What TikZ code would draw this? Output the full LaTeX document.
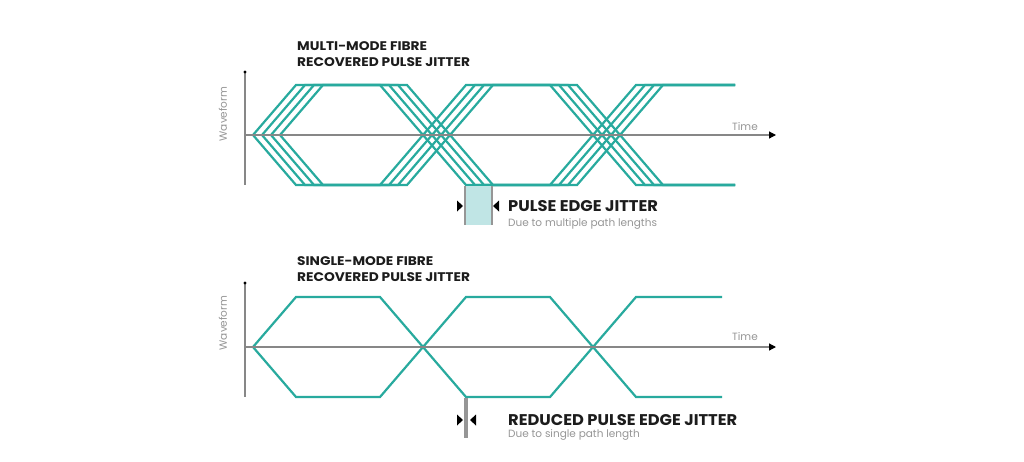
\documentclass[tikz,border=0pt]{standalone}
\usepackage{fontspec}
\setmainfont{Poppins}
\usetikzlibrary{arrows.meta}
\definecolor{wteal}{RGB}{40,170,158}
\definecolor{axisgray}{RGB}{135,135,135}
\definecolor{jitfill}{RGB}{192,229,229}
\definecolor{jitedge}{RGB}{150,150,150}
\definecolor{textdark}{RGB}{28,28,28}
\definecolor{textgray}{RGB}{150,150,150}
\begin{document}
\begin{tikzpicture}[x=1pt,y=-1pt,
  wave/.style={draw=wteal, line width=2.2pt, line join=miter},
  axisline/.style={draw=axisgray, line width=1.2pt},
  timearrow/.style={axisline, -{Triangle[length=7pt,width=7pt,fill=black,color=black]}},
  titlea/.style={anchor=west, inner sep=0pt, text=textdark, font=\bfseries\fontsize{12.5}{13}\selectfont\addfontfeature{FakeStretch=1.1}},
  titleb/.style={anchor=west, inner sep=0pt, text=textdark, font=\bfseries\fontsize{12.5}{13}\selectfont\addfontfeature{FakeStretch=1.1}},
  jitlabel/.style={anchor=west, inner sep=0pt, text=textdark, font=\bfseries\fontsize{15.5}{16}\selectfont\addfontfeature{FakeStretch=1.05}},
  jitnote/.style={anchor=base west, inner sep=0pt, text=textgray, font=\fontsize{10.5}{11}\selectfont},
  axlabel/.style={inner sep=0pt, text=textgray, font=\fontsize{10.5}{11}\selectfont},
  tri/.style={fill=black, draw=none}
]
\useasboundingbox[fill=white] (0,0) rectangle (1024,461);

% ---------- top plot: multi-mode ----------
\foreach \i in {0,1,2,3}{
  \draw[wave] (253+9*\i,135) -- (296+9*\i,85) -- (380+9*\i,85) -- (466+9*\i,185)
    -- (550+9*\i,185) -- (636+9*\i,85) -- (735,85);
  \draw[wave] (253+9*\i,135) -- (296+9*\i,185) -- (380+9*\i,185) -- (466+9*\i,85)
    -- (550+9*\i,85) -- (636+9*\i,185) -- (735,185);
}
\coordinate (vtA) at (245,72);
\coordinate (vbA) at (245,185);
\coordinate (hlA) at (245,135);
\coordinate (hrA) at (776,135);
\draw[axisline] (vtA) -- (vbA);
\fill[black] (vtA) circle (1.7pt);
\draw[timearrow] (hlA) -- (hrA);
\node[axlabel, anchor=base west] (timeA) at (732,130) {Time};
\node[axlabel, rotate=90] (waveA) at (223,114) {Waveform};
\node[titlea] (titleA1) at (297,46) {MULTI-MODE FIBRE};
\node[titleb] (titleA2) at (297,62) {RECOVERED PULSE JITTER};

% jitter marker (multi-mode)
\fill[jitfill] (465,186) rectangle (492,225);
\draw[draw=jitedge, line width=1.4pt] (465,186) -- (465,225);
\draw[draw=jitedge, line width=1.4pt] (492,186) -- (492,225);
\fill[tri] (457,200.5) -- (463,206) -- (457,211.5) -- cycle;
\fill[tri] (499,200.5) -- (493,206) -- (499,211.5) -- cycle;
\node[jitlabel] (jitA) at (508,206) {PULSE EDGE JITTER};
\node[jitnote] (noteA) at (508,226) {Due to multiple path lengths};

% ---------- bottom plot: single-mode ----------
\draw[wave] (253,347) -- (296,297) -- (380,297) -- (466,397) -- (550,397) -- (636,297) -- (722,297);
\draw[wave] (253,347) -- (296,397) -- (380,397) -- (466,297) -- (550,297) -- (636,397) -- (722,397);
\coordinate (vtB) at (245,283);
\coordinate (vbB) at (245,397);
\coordinate (hlB) at (245,347);
\coordinate (hrB) at (776,347);
\draw[axisline] (vtB) -- (vbB);
\fill[black] (vtB) circle (1.7pt);
\draw[timearrow] (hlB) -- (hrB);
\node[axlabel, anchor=base west] (timeB) at (732,340) {Time};
\node[axlabel, rotate=90] (waveB) at (223,323) {Waveform};
\node[titlea] (titleB1) at (297,261) {SINGLE-MODE FIBRE};
\node[titleb] (titleB2) at (297,277) {RECOVERED PULSE JITTER};

% jitter marker (single-mode)
\fill[jitedge] (464,398) rectangle (467.5,438);
\fill[tri] (457,414.5) -- (463,420) -- (457,425.5) -- cycle;
\fill[tri] (476,414.5) -- (470,420) -- (476,425.5) -- cycle;
\node[jitlabel] (jitB) at (508,420) {REDUCED PULSE EDGE JITTER};
\node[jitnote] (noteB) at (508,437) {Due to single path length};
\end{tikzpicture}
\end{document}
